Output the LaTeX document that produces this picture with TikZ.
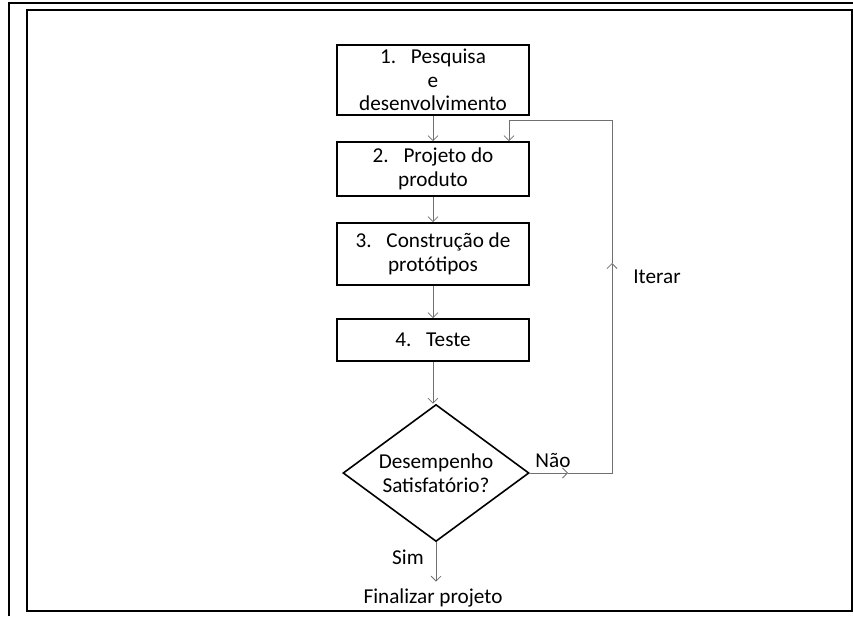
\documentclass[tikz,border=0pt]{standalone}
\usepackage{fontspec}
\setmainfont{Carlito}
\usetikzlibrary{shapes.geometric,arrows.meta}
\definecolor{linegray}{RGB}{112,112,112}
\tikzset{
  stage/.style={draw=black, line width=1.6pt, minimum width=192pt, inner sep=0pt,
    align=center, font=\fontsize{21.2}{23.5}\selectfont},
  test/.style={diamond, aspect=1.36, draw=black, line width=1.6pt, minimum width=186pt,
    minimum height=137pt, inner sep=0pt, align=center,
    font=\fontsize{21.2}{23.5}\selectfont},
  txt/.style={inner sep=0pt, font=\fontsize{21.2}{23.5}\selectfont},
  flow/.style={draw=linegray, line width=0.8pt, -{Straight Barb[length=5pt,width=10pt]}},
}

\begin{document}
\begin{tikzpicture}[x=1pt, y=-1pt]
    \useasboundingbox (0,0) rectangle (853,616);

    % page frame
    \draw[line width=1.2pt] (9,616) -- (9,3) -- (853,3);
    \draw[line width=1.2pt] (27,10) rectangle (852,611);

    \node (b1) [stage, minimum height=70pt] at (433,80) {1.\hspace{0.7em}Pesquisa\\e\\desenvolvimento};
    \node (b2) [stage, minimum height=54pt] at (433,169) {2.\hspace{0.7em}Projeto do\\produto};
    \node (b3) [stage, minimum height=62pt] at (433,254) {3.\hspace{0.7em}Construção de\\protótipos};
    \node (b4) [stage, minimum height=42pt] at (433,340) {4.\hspace{0.7em}Teste};
    \node (dec) [test] at (436,473) {Desempenho\\Satisfatório?};

    \node (fim) [txt] at (433,598) {Finalizar projeto};
    \node (sim) [txt] at (408,557) {Sim};
    \node (nao) [txt] at (553,460) {Não};
    \node (iterar) [txt] at (657,277) {Iterar};

    \coordinate (naoTip) at (568,473);
    \coordinate (cR) at (612,473);
    \coordinate (iterTip) at (612,263);
    \coordinate (cT) at (612,120);
    \coordinate (cL) at (509,120);

    \draw[flow] (b1) -- (b2);
    \draw[flow] (b2) -- (b3);
    \draw[flow] (b3) -- (b4);
    \draw[flow] (b4.south) -- (b4.south |- dec.north);
    \draw[flow] (dec.south) -- ([yshift=7pt]dec.south |- fim.north);

    % loop back
    \draw[flow] (dec.east) -- (naoTip);
    \draw[flow] (naoTip) -- (cR) -- (iterTip);
    \draw[flow] (iterTip) -- (cT) -- (cL) -- (cL |- b2.north);
\end{tikzpicture}
\end{document}
